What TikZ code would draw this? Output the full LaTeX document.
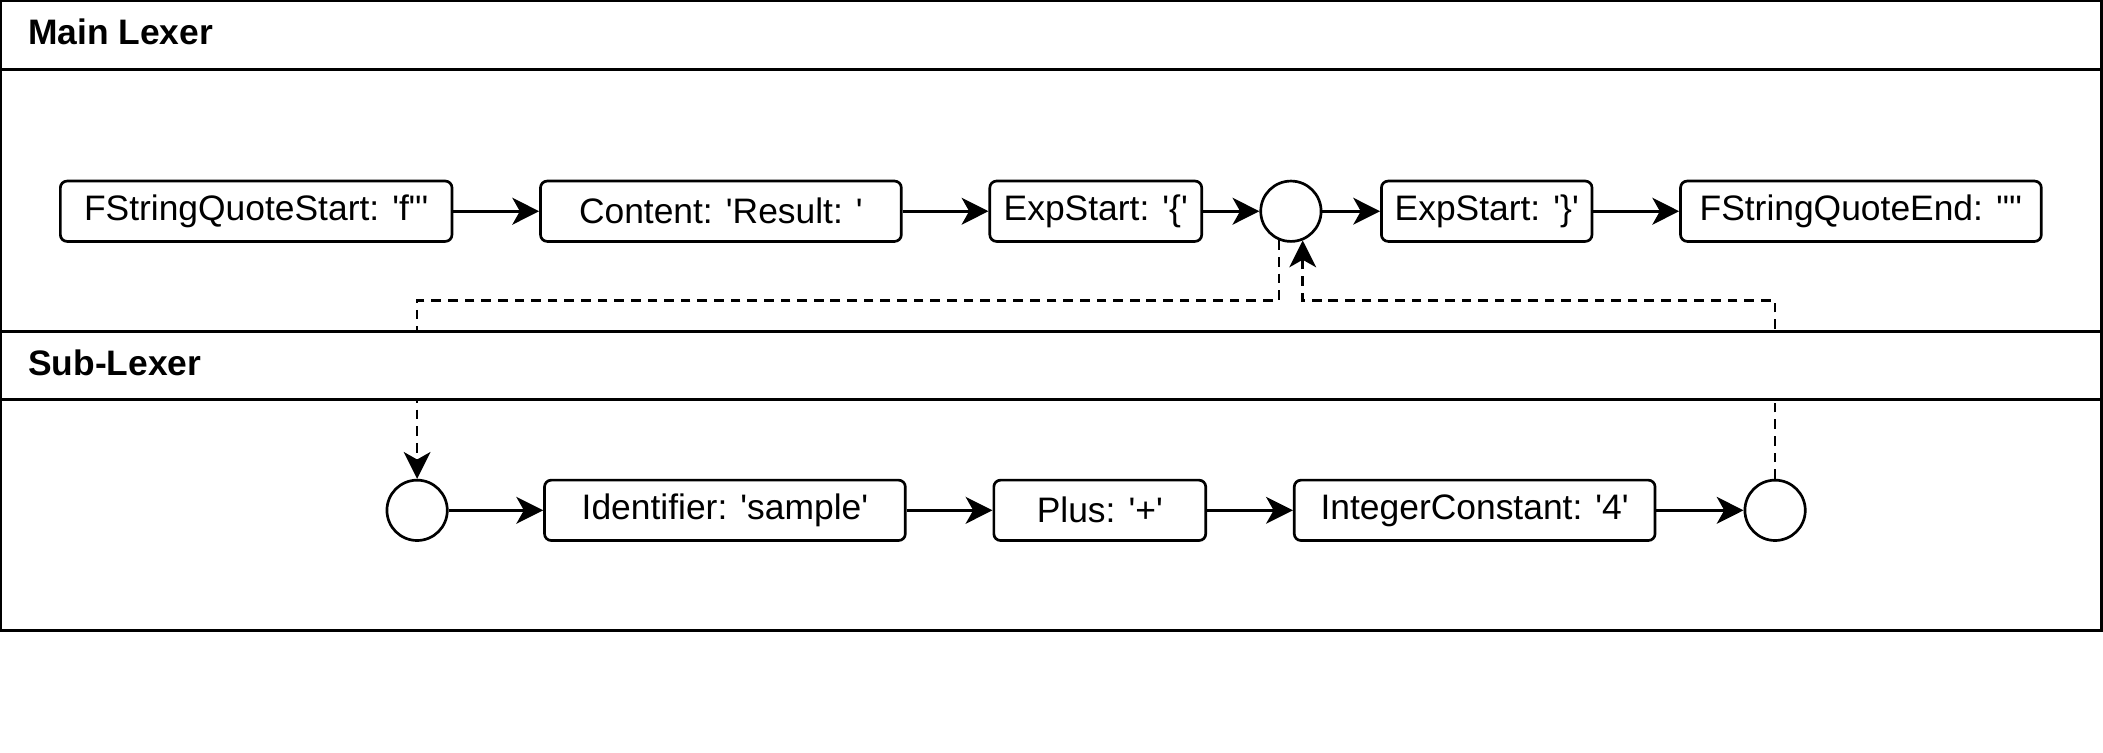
\documentclass[tikz,border=0pt]{standalone}
\usepackage{fontspec}
\setmainfont{Liberation Sans}[Ligatures=TeXOff]
\usetikzlibrary{arrows.meta}

\begin{document}
\begin{tikzpicture}[x=0.5pt,y=-0.5pt,line width=1pt,
  >={Stealth[length=10pt,width=10pt,inset=2.8pt]},
  token/.style={draw,rounded corners=2.5pt,minimum height=22.5pt,inner sep=0pt,font=\fontsize{13.2}{15}\selectfont},
  hole/.style={draw,circle,minimum size=22.5pt,inner sep=0pt},
  link/.style={->,dash pattern=on 3.6pt off 2.6pt},
  pooltitle/.style={anchor=base west,inner sep=0pt,font=\fontsize{13.2}{15}\selectfont\bfseries}]
\useasboundingbox (0,0) rectangle (1568,561);
% main lexer lane
\draw (0.5,0.5) rectangle (1567,247);
\draw (0.5,0.5) rectangle (1567,52);
\node (main) at (20,33.5) [pooltitle] {Main Lexer};
\draw (0.5,247) rectangle (1567,470);

\node (qs) at (191,157.5) [token,minimum width=146pt] {FStringQuoteStart: 'f"'};
\node (ct) at (537.5,157.5) [token,minimum width=134.5pt] {Content: 'Result: '};
\node (es) at (817,157.5) [token,minimum width=79pt] {ExpStart: '\{'};
\node (c1) at (962.5,157.5) [hole] {};
\node (ee) at (1108.5,157.5) [token,minimum width=78.5pt] {ExpStart: '\}'};
\node (qe) at (1387.5,157.5) [token,minimum width=134.5pt] {FStringQuoteEnd: '"'};
\draw[->] (qs) -- (ct);
\draw[->] (ct) -- (es);
\draw[->] (es) -- (c1);
\draw[->] (c1) -- (ee);
\draw[->] (ee) -- (qe);

% sub-lexer tokens
\node (c2) at (311,380.5) [hole] {};
\node (id) at (540.5,380.5) [token,minimum width=134.5pt] {Identifier: 'sample'};
\node (pl) at (820,380.5) [token,minimum width=79pt] {Plus: '+'};
\node (ic) at (1099.5,380.5) [token,minimum width=134.5pt] {IntegerConstant: '4'};
\node (c3) at (1323.5,380.5) [hole] {};
\draw[->] (c2) -- (id);
\draw[->] (id) -- (pl);
\draw[->] (pl) -- (ic);
\draw[->] (ic) -- (c3);

% hand over between the lexers
\draw[link] (c1.248) |- (c2.north |- 0,224) -- (c2.north);
\draw[link] (c3.north) |- (c1.292 |- 0,224) -- (c1.292);

% sub-lexer header on top
\draw[fill=white] (0.5,247) rectangle (1567,298);
\node (sub) at (20,280) [pooltitle] {Sub-Lexer};
\end{tikzpicture}
\end{document}
